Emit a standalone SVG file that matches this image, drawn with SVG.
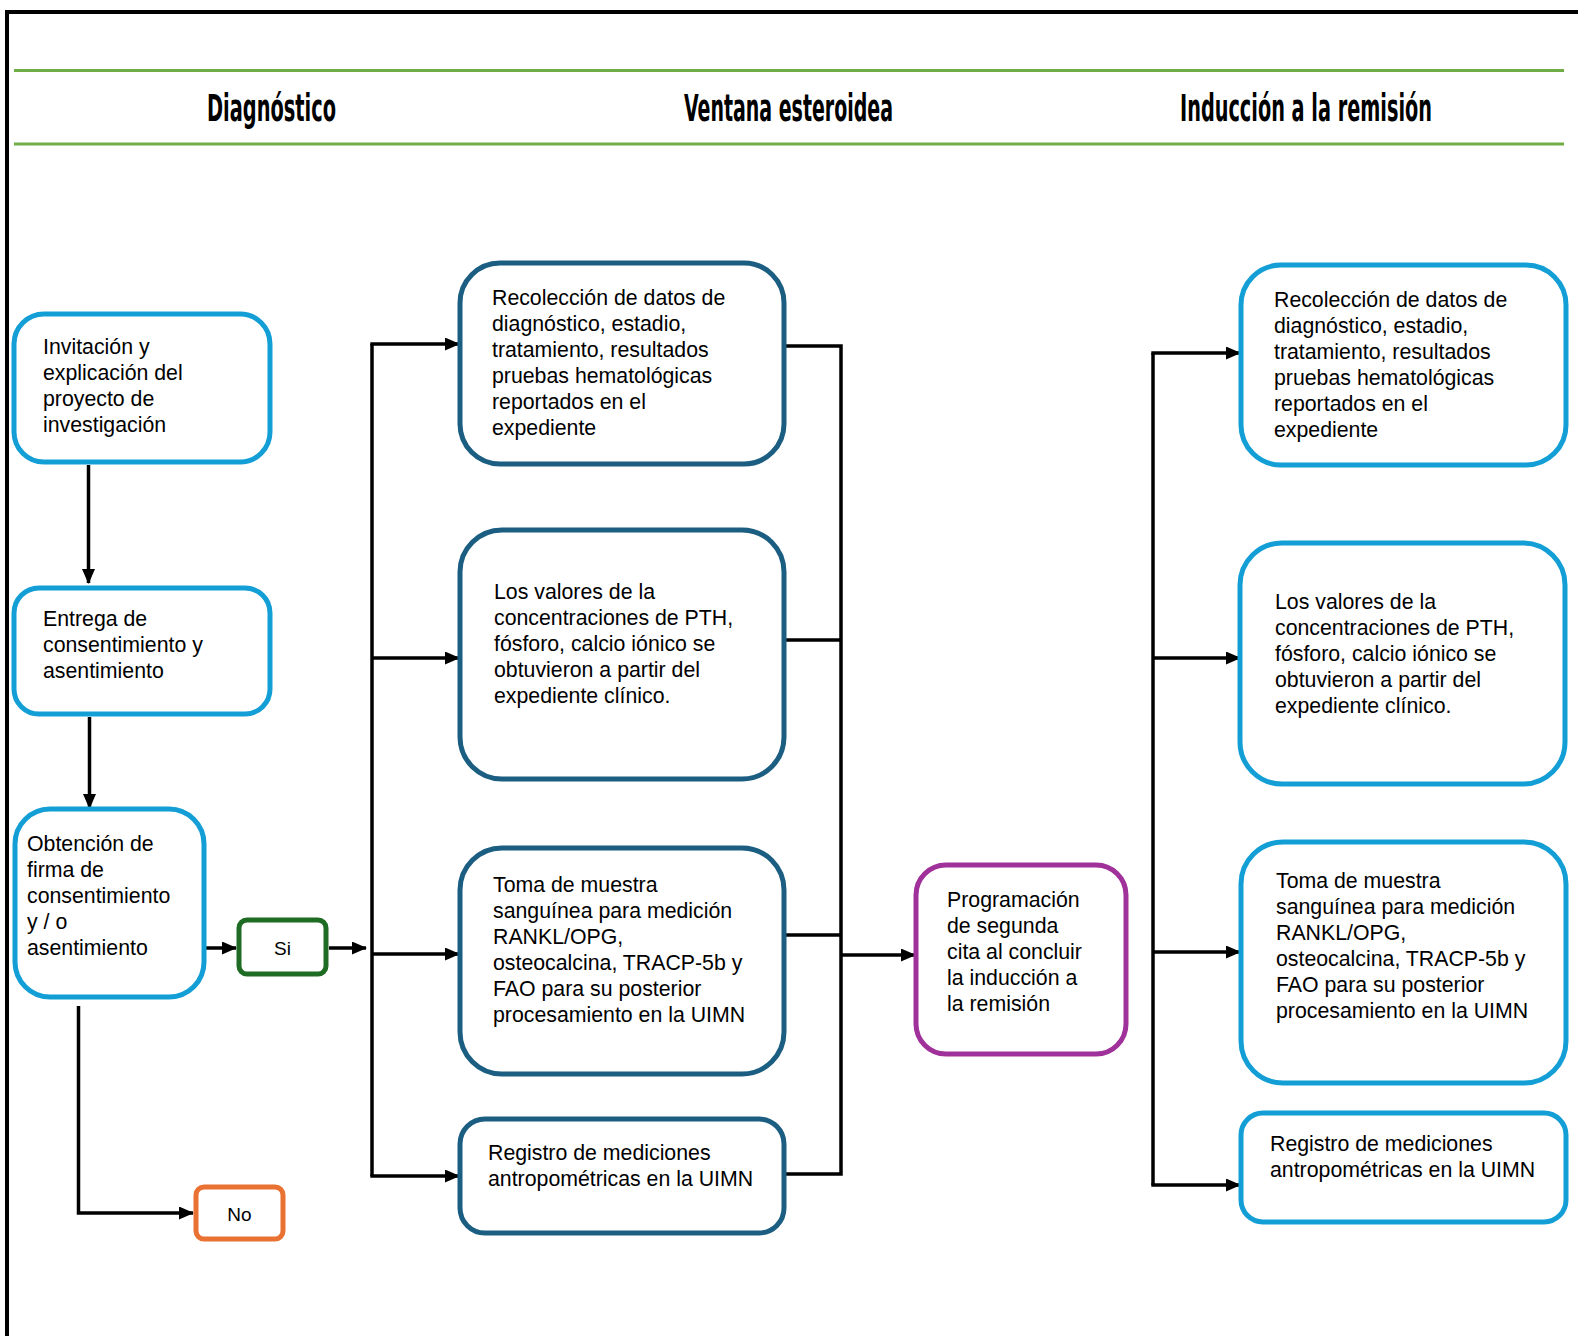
<svg xmlns="http://www.w3.org/2000/svg" width="1578" height="1336" viewBox="0 0 1578 1336">
<defs>
<style>
.t{font-family:"Liberation Sans",Arial,sans-serif;font-size:21.3px;fill:#000}
.h{font-family:"Liberation Sans Narrow","DejaVu Sans Condensed","Liberation Sans",sans-serif;font-weight:bold;font-size:37px;fill:#000}
.lb{fill:#fff;stroke:#139FD6;stroke-width:5}
.db{fill:#fff;stroke:#1B5E82;stroke-width:5}
.c{fill:none;stroke:#000;stroke-width:3.5}
</style>
<marker id="ah" markerWidth="15" markerHeight="13" refX="14" refY="6.5" orient="auto" markerUnits="userSpaceOnUse">
<path d="M0,0 L15,6.5 L0,13 Z" fill="#000"/>
</marker>
</defs>
<rect width="1578" height="1336" fill="#fff"/>
<path d="M7,1336 V12 H1578" fill="none" stroke="#000" stroke-width="4"/>
<line x1="14" y1="70.5" x2="1564" y2="70.5" stroke="#70AD47" stroke-width="3"/>
<line x1="14" y1="144" x2="1564" y2="144" stroke="#70AD47" stroke-width="3"/>
<text class="h" x="207" y="121" textLength="129" lengthAdjust="spacingAndGlyphs">Diagnóstico</text>
<text class="h" x="684" y="121" textLength="209" lengthAdjust="spacingAndGlyphs">Ventana esteroidea</text>
<text class="h" x="1180" y="121" textLength="252" lengthAdjust="spacingAndGlyphs">Inducción a la remisión</text>

<g id="connectors">
<line class="c" x1="88.5" y1="465" x2="88.5" y2="583" marker-end="url(#ah)"/>
<line class="c" x1="89.5" y1="717" x2="89.5" y2="808" marker-end="url(#ah)"/>
<line class="c" x1="206" y1="948" x2="236" y2="948" marker-end="url(#ah)"/>
<line class="c" x1="329" y1="948" x2="366" y2="948" marker-end="url(#ah)"/>
<polyline class="c" points="78.5,1006 78.5,1213 193,1213" marker-end="url(#ah)"/>
<line class="c" x1="372" y1="344" x2="372" y2="1176"/>
<line class="c" x1="370.3" y1="344" x2="459" y2="344" marker-end="url(#ah)"/>
<line class="c" x1="372" y1="658" x2="459" y2="658" marker-end="url(#ah)"/>
<line class="c" x1="372" y1="954" x2="459" y2="954" marker-end="url(#ah)"/>
<line class="c" x1="370.3" y1="1176" x2="459" y2="1176" marker-end="url(#ah)"/>
<polyline class="c" points="784,346 841,346 841,1174 784,1174"/>
<line class="c" x1="784" y1="640" x2="841" y2="640"/>
<line class="c" x1="784" y1="935" x2="841" y2="935"/>
<line class="c" x1="841" y1="955" x2="915" y2="955" marker-end="url(#ah)"/>
<line class="c" x1="1153" y1="353" x2="1153" y2="1185"/>
<line class="c" x1="1151.3" y1="353" x2="1240" y2="353" marker-end="url(#ah)"/>
<line class="c" x1="1153" y1="658" x2="1240" y2="658" marker-end="url(#ah)"/>
<line class="c" x1="1153" y1="952" x2="1240" y2="952" marker-end="url(#ah)"/>
<line class="c" x1="1151.3" y1="1185" x2="1240" y2="1185" marker-end="url(#ah)"/>
</g>

<g id="invitacion">
<rect class="lb" x="14" y="314" width="256" height="148" rx="30"/>
<text class="t"><tspan x="43" y="354">Invitación y</tspan><tspan x="43" y="380">explicación del</tspan><tspan x="43" y="406">proyecto de</tspan><tspan x="43" y="432">investigación</tspan></text>
</g>
<g id="entrega">
<rect class="lb" x="14" y="588" width="256" height="126" rx="25"/>
<text class="t"><tspan x="43" y="626">Entrega de</tspan><tspan x="43" y="652">consentimiento y</tspan><tspan x="43" y="678">asentimiento</tspan></text>
</g>
<g id="obtencion">
<rect class="lb" x="15" y="809" width="189" height="188" rx="35"/>
<text class="t"><tspan x="27" y="851">Obtención de</tspan><tspan x="27" y="877">firma de</tspan><tspan x="27" y="903">consentimiento</tspan><tspan x="27" y="929">y / o</tspan><tspan x="27" y="955">asentimiento</tspan></text>
</g>
<g id="si">
<rect x="239" y="920" width="87" height="54" rx="8" fill="#fff" stroke="#1E6B24" stroke-width="5"/>
<text class="t" x="282.5" y="955" text-anchor="middle" style="font-size:19px">Si</text>
</g>
<g id="no">
<rect x="196" y="1187" width="87" height="52" rx="8" fill="#fff" stroke="#E97132" stroke-width="5"/>
<text class="t" x="239.5" y="1221" text-anchor="middle" style="font-size:19px">No</text>
</g>

<g id="v1">
<rect class="db" x="460" y="263" width="324" height="201" rx="40"/>
<text class="t"><tspan x="492" y="305">Recolección de datos de</tspan><tspan x="492" y="331">diagnóstico, estadio,</tspan><tspan x="492" y="357">tratamiento, resultados</tspan><tspan x="492" y="383">pruebas hematológicas</tspan><tspan x="492" y="409">reportados en el</tspan><tspan x="492" y="435">expediente</tspan></text>
</g>
<g id="v2">
<rect class="db" x="460" y="530" width="324" height="249" rx="42"/>
<text class="t"><tspan x="494" y="599">Los valores de la</tspan><tspan x="494" y="625">concentraciones de PTH,</tspan><tspan x="494" y="651">fósforo, calcio iónico se</tspan><tspan x="494" y="677">obtuvieron a partir del</tspan><tspan x="494" y="703">expediente clínico.</tspan></text>
</g>
<g id="v3">
<rect class="db" x="460" y="848" width="324" height="226" rx="42"/>
<text class="t"><tspan x="493" y="892">Toma de muestra</tspan><tspan x="493" y="918">sanguínea para medición</tspan><tspan x="493" y="944">RANKL/OPG,</tspan><tspan x="493" y="970">osteocalcina, TRACP-5b y</tspan><tspan x="493" y="996">FAO para su posterior</tspan><tspan x="493" y="1022">procesamiento en la UIMN</tspan></text>
</g>
<g id="v4">
<rect class="db" x="460" y="1119" width="324" height="114" rx="25"/>
<text class="t"><tspan x="488" y="1160">Registro de mediciones</tspan><tspan x="488" y="1186">antropométricas en la UIMN</tspan></text>
</g>
<g id="programacion">
<rect x="916" y="865" width="210" height="189" rx="30" fill="#fff" stroke="#A0309A" stroke-width="5"/>
<text class="t"><tspan x="947" y="907">Programación</tspan><tspan x="947" y="933">de segunda</tspan><tspan x="947" y="959">cita al concluir</tspan><tspan x="947" y="985">la inducción a</tspan><tspan x="947" y="1011">la remisión</tspan></text>
</g>

<g id="r1">
<rect class="lb" x="1241" y="265" width="325" height="200" rx="40"/>
<text class="t"><tspan x="1274" y="307">Recolección de datos de</tspan><tspan x="1274" y="333">diagnóstico, estadio,</tspan><tspan x="1274" y="359">tratamiento, resultados</tspan><tspan x="1274" y="385">pruebas hematológicas</tspan><tspan x="1274" y="411">reportados en el</tspan><tspan x="1274" y="437">expediente</tspan></text>
</g>
<g id="r2">
<rect class="lb" x="1240" y="543" width="325" height="241" rx="42"/>
<text class="t"><tspan x="1275" y="609">Los valores de la</tspan><tspan x="1275" y="635">concentraciones de PTH,</tspan><tspan x="1275" y="661">fósforo, calcio iónico se</tspan><tspan x="1275" y="687">obtuvieron a partir del</tspan><tspan x="1275" y="713">expediente clínico.</tspan></text>
</g>
<g id="r3">
<rect class="lb" x="1241" y="842" width="325" height="241" rx="42"/>
<text class="t"><tspan x="1276" y="888">Toma de muestra</tspan><tspan x="1276" y="914">sanguínea para medición</tspan><tspan x="1276" y="940">RANKL/OPG,</tspan><tspan x="1276" y="966">osteocalcina, TRACP-5b y</tspan><tspan x="1276" y="992">FAO para su posterior</tspan><tspan x="1276" y="1018">procesamiento en la UIMN</tspan></text>
</g>
<g id="r4">
<rect class="lb" x="1241" y="1113" width="325" height="109" rx="22"/>
<text class="t"><tspan x="1270" y="1151">Registro de mediciones</tspan><tspan x="1270" y="1177">antropométricas en la UIMN</tspan></text>
</g>
</svg>
